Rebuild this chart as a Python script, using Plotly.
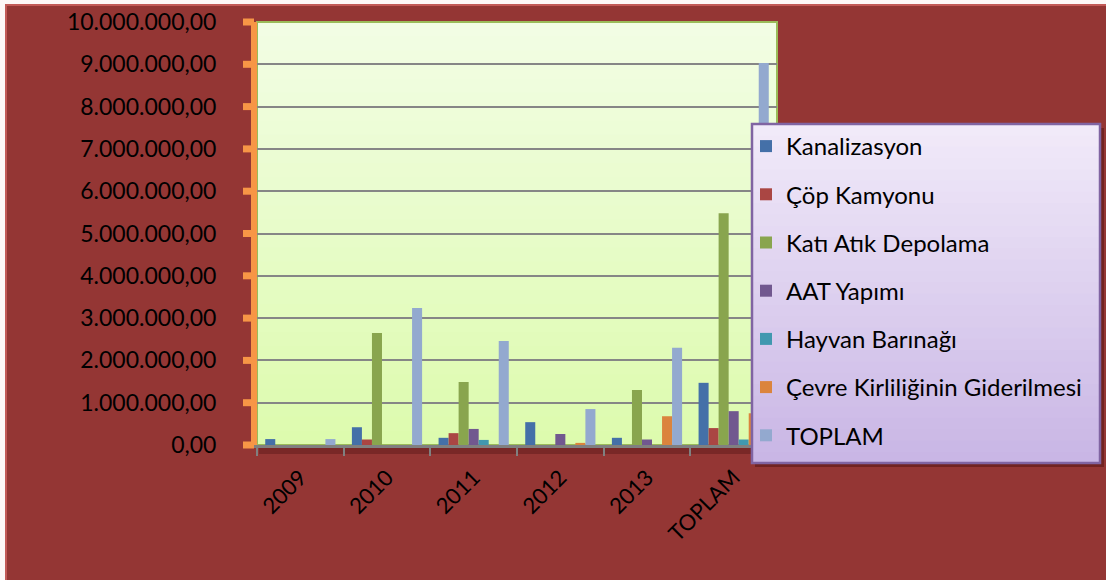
import plotly.graph_objects as go

years = ["2009", "2010", "2011", "2012", "2013", "TOPLAM"]

kanalizasyon = [140000, 420000, 170000, 540000, 170000, 1470000]
cop_kamyonu = [0, 130000, 280000, 0, 0, 400000]
kati_atik = [0, 2650000, 1490000, 0, 1300000, 5480000]
aat_yapimi = [0, 0, 380000, 260000, 130000, 800000]
hayvan_barinagi = [0, 0, 120000, 0, 0, 130000]
cevre_kirliligi = [0, 0, 0, 50000, 680000, 750000]
toplam = [140000, 3240000, 2460000, 850000, 2300000, 9030000]

y_ticks = [0, 1000000, 2000000, 3000000, 4000000, 5000000,
           6000000, 7000000, 8000000, 9000000, 10000000]

series = [
    ("Kanalizasyon", kanalizasyon, "#4470A8"),
    ("Çöp Kamyonu", cop_kamyonu, "#AA4643"),
    ("Katı Atık Depolama", kati_atik, "#89A54E"),
    ("AAT Yapımı", aat_yapimi, "#71588F"),
    ("Hayvan Barınağı", hayvan_barinagi, "#4198AF"),
    ("Çevre Kirliliğinin Giderilmesi", cevre_kirliligi, "#DB843D"),
    ("TOPLAM", toplam, "#93A9CF"),
]

W, H = 1101, 576
L, R, T, B = 252, 329, 18, 135
pw, ph = W - L - R, H - T - B
y_max = y_ticks[-1]


def px(x):  # figure pixel -> paper x
    return (x - L) / pw


def py(y):  # figure pixel -> paper y
    return (H - B - y) / ph


fig = go.Figure()
for i, (name, vals, col) in enumerate(series):
    fig.add_trace(go.Bar(x=years, y=vals, name=name, marker_color=col,
                         marker_line_width=0, legendgroup=str(i)))


def gradient(x0, x1, y0, y1, top, bot, layer, n=30):
    out = []
    step = (y1 - y0) / n
    for k in range(n):
        t = k / (n - 1)
        c = tuple(round(top[j] + (bot[j] - top[j]) * t) for j in range(3))
        out.append(dict(type="rect", xref="paper", yref="paper", layer=layer,
                        x0=x0, x1=x1, y0=max(y0, y1 - (k + 1.6) * step), y1=y1 - k * step,
                        fillcolor="rgb(%d,%d,%d)" % c, line_width=0))
    return out


# shadow under the plot area
shapes = [dict(type="rect", xref="paper", yref="paper", layer="below",
               x0=px(L + 2), x1=1, y0=py(H - B + 9), y1=0,
               fillcolor="rgba(40,0,0,0.25)", line_width=0)]
shapes += gradient(0, 1, 0, 1, (242, 253, 228), (221, 251, 174), "below")
shapes.append(dict(type="rect", xref="paper", yref="paper", layer="below",
                   x0=0, x1=1, y0=0, y1=1, line=dict(color="#9BBB59", width=2)))
# orange square tick marks sticking out left of the value axis line
for v in y_ticks:
    shapes.append(dict(type="rect", xref="paper", yref="paper", layer="above",
                       x0=px(L - 14), x1=px(L - 3),
                       y0=v / y_max - 3.5 / ph, y1=v / y_max + 3.5 / ph,
                       fillcolor="#F79646", line_width=0))
# legend box (x 747-1095, y 120-459 in figure pixels)
lx0, lx1, ly0, ly1 = px(747), px(1095), py(459), py(120)
shapes.append(dict(type="rect", xref="paper", yref="paper", layer="above",
                   x0=px(750), x1=px(1099), y0=py(463), y1=py(124),
                   fillcolor="rgba(50,0,0,0.35)", line_width=0))
shapes += gradient(lx0, lx1, ly0, ly1, (241, 234, 249), (201, 182, 229), "above")
shapes.append(dict(type="rect", xref="paper", yref="paper", layer="above",
                   x0=lx0, x1=lx1, y0=ly0, y1=ly1, line=dict(color="#8064A2", width=2.5)))
# outer frame
shapes.append(dict(type="rect", xref="paper", yref="paper", layer="below",
                   x0=px(1), x1=px(W + 2), y0=py(H + 2), y1=py(1),
                   line=dict(color="#C25A57", width=2)))

fig.update_layout(
    width=W, height=H,
    margin=dict(l=L, r=R, t=T, b=B, autoexpand=False),
    paper_bgcolor="#943634", plot_bgcolor="rgba(0,0,0,0)",
    font=dict(family="Lato, Open Sans, sans-serif", size=22, color="black"),
    separators=",.",
    barmode="group", bargap=0.19, bargroupgap=0,
    shapes=shapes,
    legend=dict(x=px(741), y=py(120), xanchor="left", yanchor="top",
                bgcolor="rgba(0,0,0,0)", borderwidth=0,
                font=dict(size=24), tracegroupgap=14, traceorder="grouped"),
)
fig.update_yaxes(range=[0, y_max], tickvals=y_ticks, tickformat=",.2f",
                 tickfont=dict(size=23), automargin=False, ticklabelstandoff=30,
                 showgrid=True, gridcolor="#868686", gridwidth=2,
                 showline=True, linecolor="#F79646", linewidth=6,
                 ticks="", zeroline=False)
fig.update_xaxes(tickangle=-45, automargin=False, ticklabelstandoff=8,
                 showline=True, linecolor="#808080", linewidth=3,
                 ticks="outside", tickson="boundaries", tickcolor="#808080",
                 ticklen=8, tickwidth=2)

fig.write_html("out.html", post_script="document.body.style.margin='4px 0 0 5px';"
               "document.body.style.background='#fdf7f7';")
